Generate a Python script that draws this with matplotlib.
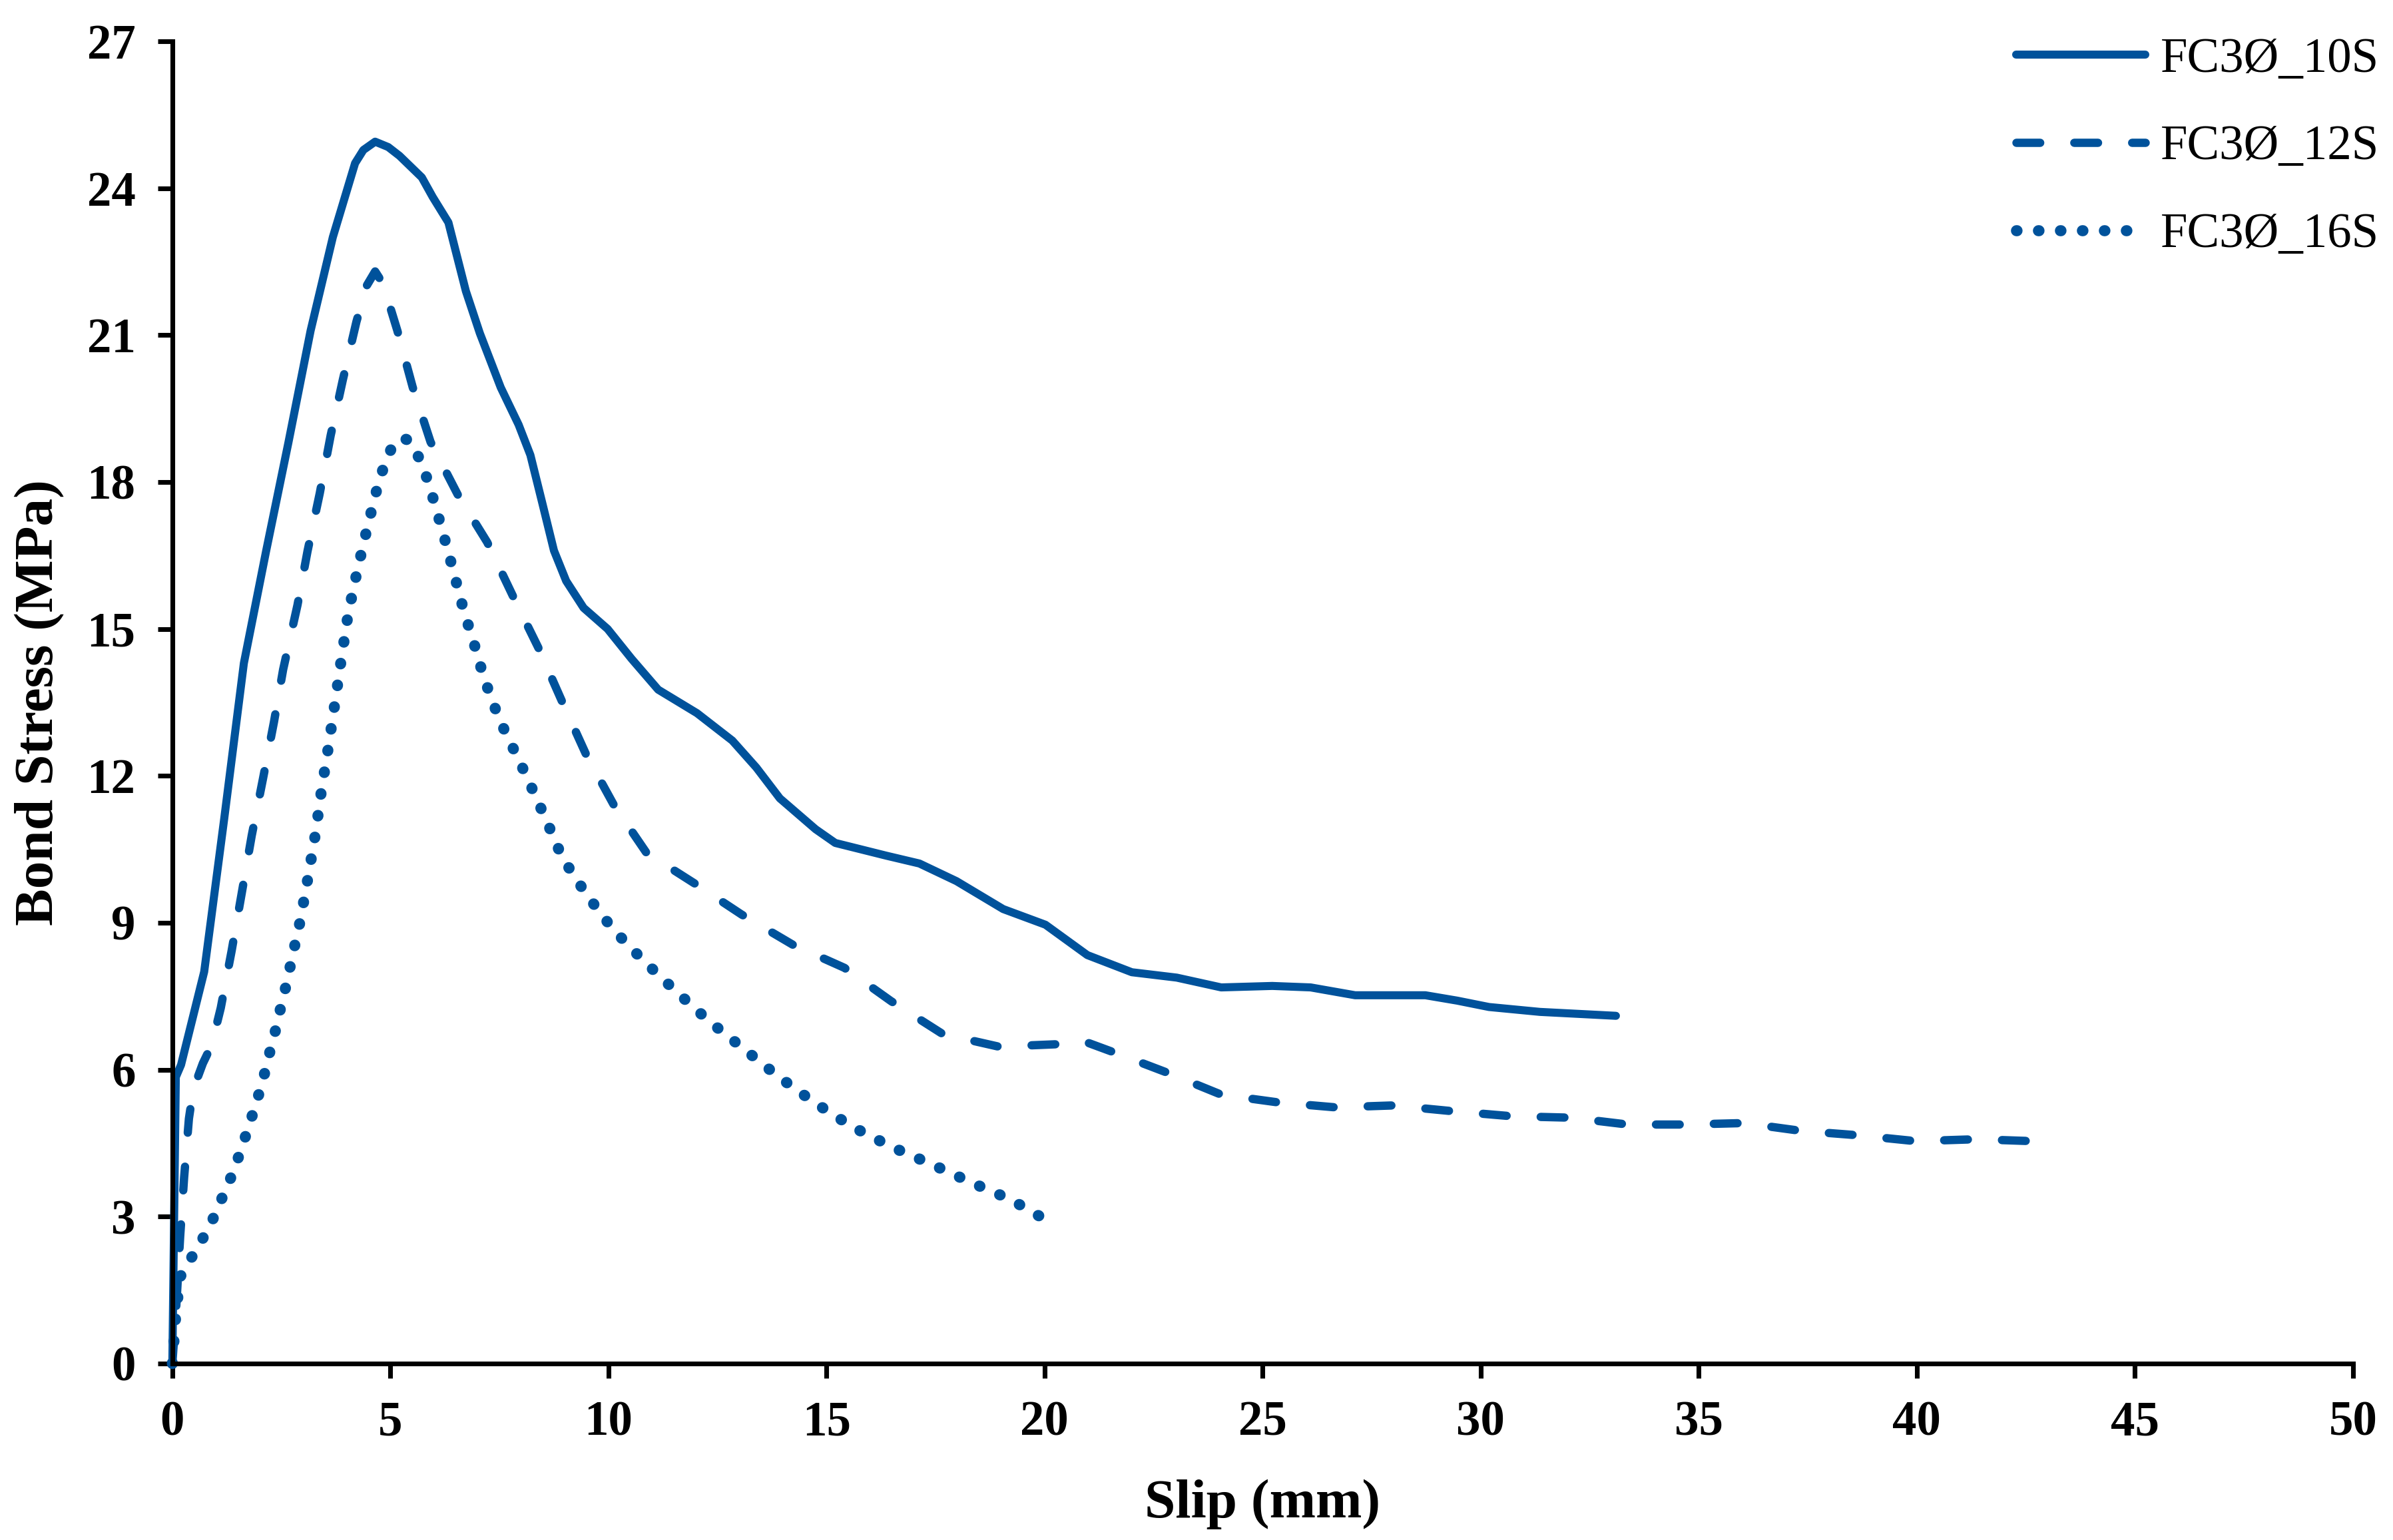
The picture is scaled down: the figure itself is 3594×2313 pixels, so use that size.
import matplotlib
matplotlib.use("Agg")
import matplotlib.pyplot as plt

# slip (mm) and bond stress (MPa)
slip_10s = [0, 0.08, 0.2, 0.73, 1.19, 1.64, 2.15, 2.66, 3.17, 3.68, 4.19, 4.38, 4.65, 4.95, 5.21,
            5.72, 5.97, 6.33, 6.73, 7.05, 7.53, 7.94, 8.21, 8.48, 8.75, 9.03, 9.43, 9.98, 10.53,
            11.14, 12.03, 12.84, 13.39, 13.93, 14.75, 15.2, 16.37, 17.13, 17.98, 19.05, 20.02,
            20.98, 22.0, 23.03, 24.05, 25.22, 26.1, 27.12, 28.73, 29.46, 30.19, 31.36, 33.1]
stress_10s = [0, 5.85, 6.1, 8.0, 11.13, 14.3, 16.59, 18.8, 21.09, 23.0, 24.51, 24.78, 24.95, 24.84, 24.66,
              24.22, 23.82, 23.3, 21.9, 21.04, 19.93, 19.17, 18.55, 17.58, 16.6, 15.98, 15.43, 15.0, 14.39,
              13.76, 13.28, 12.72, 12.17, 11.54, 10.91, 10.63, 10.37, 10.21, 9.85, 9.28, 8.96,
              8.34, 7.99, 7.88, 7.68, 7.71, 7.68, 7.52, 7.52, 7.41, 7.28, 7.18, 7.1]

slip_12s = [0, 0.08, 0.18, 0.27, 0.38, 0.48, 0.7, 0.9, 1.11, 1.36, 1.59, 1.82, 2.08, 2.33, 2.54,
            2.87, 3.1, 3.38, 3.63, 3.91, 4.22, 4.45, 4.65, 4.83, 5.16, 5.51, 5.92, 6.54, 7.22,
            7.81, 8.39, 8.93, 9.48, 10.12, 10.87, 11.98, 13.05, 14.23, 15.41, 16.48, 17.66,
            18.95, 20.29, 20.9, 21.57, 22.81, 24.05, 25.37, 26.68, 27.99, 29.38, 30.7, 32.06,
            33.37, 34.71, 36.03, 37.35, 38.66, 39.98, 41.37, 42.68, 43.0]
stress_12s = [0, 1.0, 2.6, 3.8, 5.0, 5.6, 6.13, 6.5, 7.26, 8.43, 9.6, 10.78, 11.95, 13.1, 14.17,
              15.49, 16.59, 17.77, 18.95, 20.09, 21.27, 22.0, 22.3, 22.05, 21.09, 19.94, 18.82, 17.75, 16.77,
              15.67, 14.62, 13.53, 12.45, 11.41, 10.43, 9.8, 9.17, 8.55, 8.08, 7.4, 6.73,
              6.47, 6.52, 6.58, 6.36, 5.94, 5.49, 5.33, 5.23, 5.27, 5.15, 5.05, 5.02,
              4.88, 4.88, 4.91, 4.75, 4.66, 4.54, 4.58, 4.54, 4.5]

slip_16s = [0, 0.08, 0.18, 0.43, 0.69, 0.93, 1.13, 1.33, 1.51, 1.67, 1.83, 1.98, 2.12, 2.24, 2.37,
            2.48, 2.6, 2.71, 2.82, 2.93, 3.11, 3.28, 3.42, 3.58, 3.73, 3.88, 4.03, 4.24, 4.47,
            4.72, 4.88, 5.08, 5.27, 5.46, 5.69, 5.87, 6.01, 6.15, 6.29, 6.42, 6.55, 6.68, 6.83,
            6.98, 7.12, 7.29, 7.47, 7.68, 7.9, 8.12, 8.33, 8.54, 8.74, 8.94, 9.5, 10.11, 10.81,
            11.56, 12.31, 13.11, 13.91, 14.72, 15.6, 16.5, 17.43, 18.36, 19.22, 19.9]
stress_16s = [0, 1.0, 1.77, 2.15, 2.54, 2.95, 3.36, 3.77, 4.2, 4.62, 5.06, 5.49, 5.94, 6.38, 6.82,
              7.25, 7.69, 8.14, 8.59, 9.03, 9.92, 10.81, 11.71, 12.6, 13.5, 14.42, 15.3, 16.19, 17.07,
              17.96, 18.4, 18.8, 18.9, 18.84, 18.43, 18.0, 17.57, 17.14, 16.69, 16.26, 15.82, 15.38, 14.95,
              14.52, 14.07, 13.64, 13.22, 12.8, 12.41, 11.99, 11.58, 11.16, 10.75, 10.33, 9.57, 8.86, 8.22,
              7.59, 6.99, 6.42, 5.85, 5.33, 4.83, 4.42, 4.06, 3.68, 3.35, 3.0]

labels = ["FC3Ø_10S", "FC3Ø_12S", "FC3Ø_16S"]
x_ticks = list(range(0, 51, 5))
y_ticks = list(range(0, 28, 3))

plt.rcParams['font.family'] = ['Liberation Serif', 'DejaVu Serif']
blue = "#00529b"

fig = plt.figure(figsize=(3595 / 300, 2313 / 300), dpi=300)
ax = fig.add_axes([0.072, 0.1146, 0.911, 0.8586])

ax.plot(slip_10s, stress_10s, color=blue, lw=2.9, solid_capstyle='round',
        solid_joinstyle='round', label=labels[0], clip_on=False)
ax.plot(slip_12s, stress_12s, color=blue, lw=3.0, linestyle=(0, (2.85, 4.1)),
        dash_capstyle='round', dash_joinstyle='round', label=labels[1], clip_on=False)
ax.plot(slip_16s, stress_16s, color=blue, lw=4.0, linestyle=(0, (0.05, 1.93)),
        dash_capstyle='round', label=labels[2], clip_on=False)

ax.set_xlim(0, 50)
ax.set_ylim(0, 27)
ax.set_xticks(x_ticks)
ax.set_yticks(y_ticks)
for s in ['top', 'right']:
    ax.spines[s].set_visible(False)
for s in ['left', 'bottom']:
    ax.spines[s].set_linewidth(1.7)
ax.tick_params(direction='out', length=5.3, width=1.7, labelsize=17.5, pad=8)
for t in ax.get_xticklabels() + ax.get_yticklabels():
    t.set_fontweight('bold')

ax.set_xlabel("Slip (mm)", fontsize=20, fontweight='bold', labelpad=12)
ax.set_ylabel("Bond Stress (MPa)", fontsize=20, fontweight='bold', labelpad=8)

leg = ax.legend(loc='upper right', bbox_to_anchor=(0.998, 0.982), bbox_transform=fig.transFigure,
                frameon=False, fontsize=17.5, handlelength=2.67, handletextpad=0.31,
                labelspacing=0.88, borderpad=0.2, borderaxespad=0)

fig.savefig("out.png", dpi=300)
